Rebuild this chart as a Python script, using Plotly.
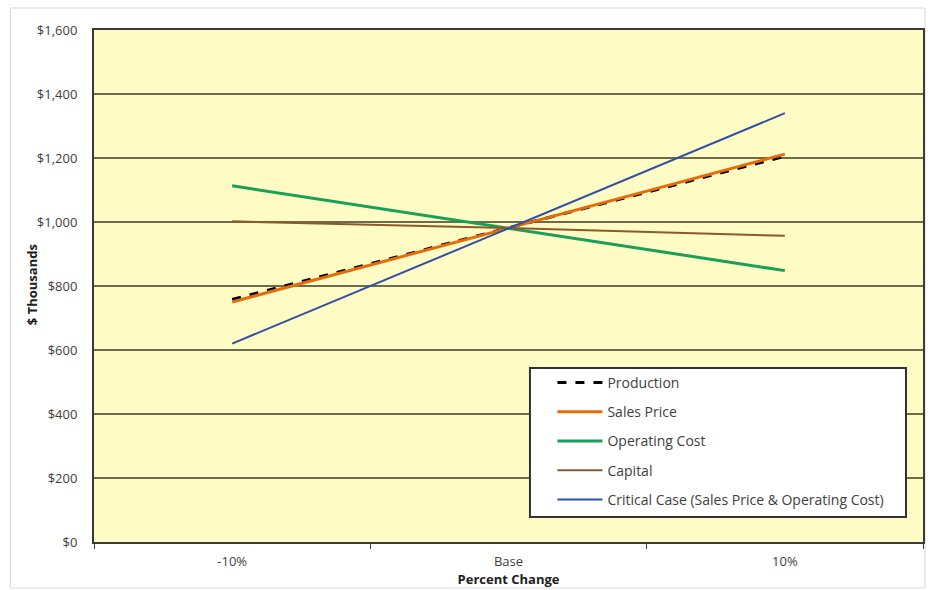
import plotly.graph_objects as go

categories = ["-10%", "Base", "10%"]
production = [758, 981, 1205]
sales_price = [750, 981, 1212]
operating_cost = [1113, 981, 848]
capital = [1002, 981, 957]
critical_case = [620, 981, 1340]

series = [
    ("Production", production, dict(color="#000000", width=3, dash="dash")),
    ("Sales Price", sales_price, dict(color="#E46C0A", width=3)),
    ("Operating Cost", operating_cost, dict(color="#17A05A", width=3)),
    ("Capital", capital, dict(color="#8B5A2B", width=2)),
    ("Critical Case (Sales Price & Operating Cost)", critical_case, dict(color="#2F4FA8", width=2)),
]

fig = go.Figure()
for i, (name, vals, line) in enumerate(series):
    fig.add_trace(go.Scatter(x=categories, y=vals, name=name, mode="lines",
                             line=line, legendgroup=f"g{i}"))

font_family = "Open Sans, Liberation Sans, sans-serif"

fig.update_layout(
    width=928, height=590,
    margin=dict(l=94, r=3, t=30, b=48),
    paper_bgcolor="white",
    plot_bgcolor="#FFFBC4",
    font=dict(family=font_family, size=13, color="#404040"),
    showlegend=True,
    legend=dict(
        x=0.553, y=0.3418, xanchor="left", yanchor="top",
        bgcolor="rgba(0,0,0,0)", borderwidth=0,
        font=dict(size=14, color="#404040"),
        tracegroupgap=8,
        itemwidth=45,
    ),
    xaxis=dict(
        type="category", range=[-0.5, 2.5],
        showgrid=False, showline=True, linecolor="#3a3a3a", linewidth=2, mirror=True,
        ticks="outside", tickson="boundaries", ticklen=5, tickcolor="#3a3a3a",
        ticklabelstandoff=6,
        tickfont=dict(size=13, color="#404040"),
        title=dict(text="<b>Percent Change</b>", font=dict(size=13, color="#202020"), standoff=2),
    ),
    yaxis=dict(
        range=[0, 1600], dtick=200,
        tickprefix="$", tickformat=",",
        showgrid=True, gridcolor="#6E6A4E", gridwidth=2,
        showline=True, linecolor="#3a3a3a", linewidth=2, mirror=True,
        zeroline=False, ticks="",
        ticklabelstandoff=12,
        tickfont=dict(size=13, color="#404040"),
    ),
    annotations=[dict(text="<b>$ Thousands</b>", xref="paper", yref="paper",
                      x=-0.0746, y=0.502, textangle=-90, showarrow=False,
                      xanchor="center", yanchor="middle",
                      font=dict(size=13, color="#202020"))],
    shapes=[
        dict(type="rect", xref="paper", yref="paper",
             x0=-0.101, x1=1.0024, y0=-0.0898, y1=1.043,
             line=dict(color="#D9D9D9", width=1), fillcolor="rgba(0,0,0,0)", layer="below"),
        dict(type="rect", xref="paper", yref="paper",
             x0=0.5259, x1=0.9795, y0=0.0488, y1=0.3398,
             line=dict(color="#333333", width=2), fillcolor="white", layer="above"),
    ],
)

fig.write_html("out.html",
               config={"displayModeBar": False},
               post_script="document.body.style.margin='0';document.body.style.overflow='hidden';")
